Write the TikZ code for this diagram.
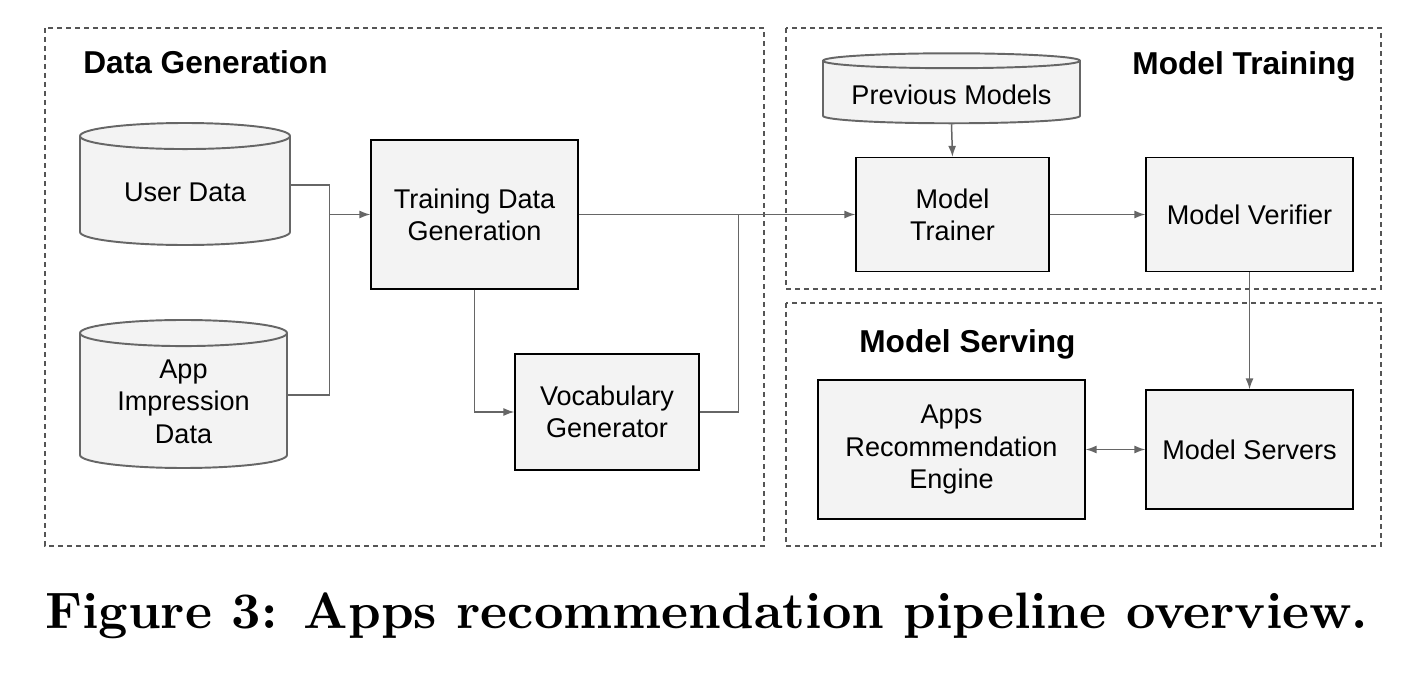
\documentclass[tikz,border=0pt]{standalone}
\usepackage{fontspec}
\newfontfamily\arialfont{Liberation Sans}
\newfontface\captionfont{lmroman10-bold.otf}
\usetikzlibrary{shapes.geometric,arrows.meta,positioning,calc}
\definecolor{boxfill}{HTML}{F3F3F3}
\definecolor{linegray}{HTML}{666666}
\definecolor{framegray}{HTML}{555555}

\tikzset{
  block/.style={draw=black, line width=0.7pt, fill=boxfill, align=center,
    font=\arialfont\fontsize{15.4}{18.4}\selectfont, inner sep=0pt},
  store/.style={cylinder, shape border rotate=90, draw=linegray,
    line width=1.1pt, fill=boxfill, inner sep=0pt},
  storetext/.style={align=center, inner sep=0pt,
    font=\arialfont\fontsize{15.4}{18.4}\selectfont},
  link/.style={draw=linegray, line width=0.85pt},
  flow/.style={link, -{Latex[length=2.2mm,width=1.6mm]}},
  twoway/.style={link, {Latex[length=2.2mm,width=1.6mm]}-{Latex[length=2.2mm,width=1.6mm]}},
  frame/.style={draw=framegray, line width=0.85pt, dash pattern=on 0.1cm off 0.08cm},
  title/.style={font=\arialfont\bfseries\fontsize{18}{22}\selectfont, inner sep=0pt}
}

\begin{document}
\begin{tikzpicture}
	\useasboundingbox (0,0) rectangle (28.24,-13.52);
	% dashed frames
	\draw[frame] (0.9,-0.56) rectangle (15.28,-10.92);
	\draw[frame] (15.72,-0.56) rectangle (27.62,-5.78);
	\draw[frame] (15.72,-6.06) rectangle (27.62,-10.92);
	\node[title,anchor=west] (gentitle) at (1.66,-1.24) {Data Generation};
	\node[title,anchor=east] (traintitle) at (27.12,-1.32) {Model Training};
	\node[title,anchor=west] (servetitle) at (17.18,-6.88) {Model Serving};
	% data generation (the rule sets the cylinder width)
	\node[store,aspect=0.124,minimum height=2.44cm,
		label={[storetext,yshift=-0.03cm]center:User Data}] (user) at (3.7,-3.82) {\rule{4.2cm}{0pt}};
	\node[store,aspect=0.126,minimum height=2.96cm,
		label={[storetext,yshift=-0.01cm]center:{App\\Impression\\Data}}] (app) at (3.67,-8.02) {\rule{4.14cm}{0pt}};
	\node[block,minimum width=4.14cm,minimum height=2.98cm] (tdg) at (9.49,-4.29) {Training Data\\Generation};
	\node[block,minimum width=3.68cm,minimum height=2.32cm] (vocab) at (12.14,-8.24) {Vocabulary\\Generator};
	% model training
	\node[store,aspect=0.058,minimum height=1.4cm,
		label={[storetext,yshift=-0.05cm]center:Previous Models}] (prev) at (19.03,-1.85) {\rule{5.14cm}{0pt}};
	\node[block,minimum width=3.86cm,minimum height=2.28cm] (trainer) at (19.05,-4.29) {Model\\Trainer};
	\node[block,minimum width=4.14cm,minimum height=2.28cm] (verifier) at (24.99,-4.29) {Model Verifier};
	% model serving
	\node[block,minimum width=5.34cm,minimum height=2.78cm] (engine) at (19.03,-8.99) {Apps\\Recommendation\\Engine};
	\node[block,minimum width=4.14cm,minimum height=2.38cm] (servers) at (24.99,-8.99) {Model Servers};
	% connectors
	\path (tdg.west) ++(-0.82,0) coordinate (join);
	\path (tdg.east) ++(3.2,0) coordinate (merge);
	\draw[link] ([yshift=0.12cm]user.east) -| (join) |- ([yshift=0.12cm]app.east);
	\draw[flow] (join) -- (tdg.west);
	\draw[flow] (tdg.east) -- (trainer.west);
	\draw[link] (vocab.east) -| (merge);
	\draw[flow] (tdg.south) |- (vocab.west);
	\draw[flow] (prev.south) -- (trainer.north);
	\draw[flow] (trainer.east) -- (verifier.west);
	\draw[flow] (verifier.south) -- (servers.north);
	\draw[twoway] (engine.east) -- (servers.west);
	% caption
	\node[anchor=base west,inner sep=0pt,font=\captionfont\fontsize{29.15}{34}\selectfont] (caption) at (0.9,-12.56) {Figure 3: Apps recommendation pipeline overview.};
\end{tikzpicture}
\end{document}
